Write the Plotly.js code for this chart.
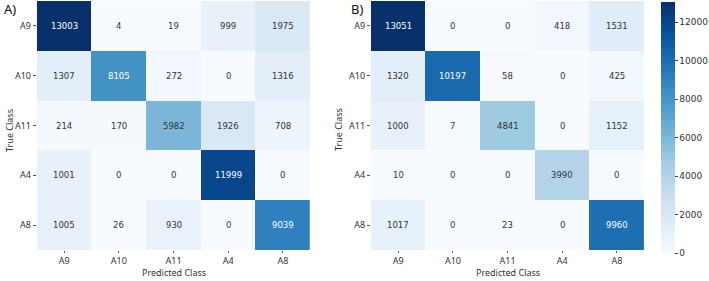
<!DOCTYPE html>
<html>
<head>
<meta charset="utf-8">
<script src="https://cdn.plot.ly/plotly-3.0.1.min.js"></script>
<style>
  html, body { margin: 0; padding: 0; background: #fff; }
  #chart { width: 709px; height: 281px; }
</style>
</head>
<body>
<div id="chart"></div>
<script>
// Class labels (rows = true class, columns = predicted class)
const classes = ["A9", "A10", "A11", "A4", "A8"];

// Confusion matrix, model A
const matrixA = [
  [13003, 4, 19, 999, 1975],
  [1307, 8105, 272, 0, 1316],
  [214, 170, 5982, 1926, 708],
  [1001, 0, 0, 11999, 0],
  [1005, 26, 930, 0, 9039]
];

// Confusion matrix, model B
const matrixB = [
  [13051, 0, 0, 418, 1531],
  [1320, 10197, 58, 0, 425],
  [1000, 7, 4841, 0, 1152],
  [10, 0, 0, 3990, 0],
  [1017, 0, 23, 0, 9960]
];

const panelLabels = ["A)", "B)"];
const xTitle = "Predicted Class";
const yTitle = "True Class";
const cbarTicks = [0, 2000, 4000, 6000, 8000, 10000, 12000];

// matplotlib "Blues"
const blues = [
  [0.0, "#f7fbff"], [0.125, "#deebf7"], [0.25, "#c6dbef"],
  [0.375, "#9ecae1"], [0.5, "#6baed6"], [0.625, "#4292c6"],
  [0.75, "#2171b5"], [0.875, "#08519c"], [1.0, "#08306b"]
];

const allVals = matrixA.flat().concat(matrixB.flat());
const zmax = Math.max(...allVals);

const W = 709, H = 281;
const left1 = 37, right1 = 312, left2 = 373, right2 = 648;
const plotTop = 1, plotBottom = 250;
const yDom = [(H - plotBottom) / H, (H - plotTop) / H];

const traces = [
  {
    type: "heatmap", z: matrixA, x: classes, y: classes,
    xaxis: "x", yaxis: "y",
    colorscale: blues, zmin: 0, zmax: zmax, showscale: false,
    hoverinfo: "skip"
  },
  {
    type: "heatmap", z: matrixB, x: classes, y: classes,
    xaxis: "x2", yaxis: "y2",
    colorscale: blues, zmin: 0, zmax: zmax, showscale: true,
    hoverinfo: "skip",
    colorbar: {
      x: 665 / W, xanchor: "left",
      y: (H - (2 + 253) / 2) / H, yanchor: "middle",
      len: 251, lenmode: "pixels",
      thickness: 14, thicknessmode: "pixels",
      outlinewidth: 0,
      tickmode: "array",
      tickvals: cbarTicks,
      ticktext: cbarTicks.map(String),
      ticks: "outside", ticklen: 3, tickcolor: "#444", tickwidth: 1,
      tickfont: { family: "DejaVu Sans, sans-serif", size: 9, color: "#333" },
      xpad: 0, ypad: 0
    }
  }
];

// Cell value labels
const annotations = [];
function addCellLabels(m, xa, ya) {
  m.forEach((row, i) => {
    row.forEach((v, j) => {
      annotations.push({
        x: classes[j], y: classes[i], xref: xa, yref: ya,
        text: String(v), showarrow: false,
        font: {
          family: "DejaVu Sans, sans-serif", size: 8.5,
          color: v / zmax > 0.55 ? "#ffffff" : "#333333"
        }
      });
    });
  });
}
addCellLabels(matrixA, "x", "y");
addCellLabels(matrixB, "x2", "y2");

// Panel tags
const tagFont = { family: "Noto Sans, sans-serif", size: 13, color: "#111" };
[[2, panelLabels[0]], [351, panelLabels[1]]].forEach(([px, t]) => {
  annotations.push({
    text: t, xref: "paper", yref: "paper",
    x: px / W, y: (H - 9) / H, xanchor: "left", yanchor: "middle",
    showarrow: false, font: tagFont
  });
});

// Axis titles
const titleFont = { family: "Noto Sans, sans-serif", size: 9, color: "#333" };
[[left1, right1, 9], [left2, right2, 340]].forEach(([l, r, yt]) => {
  annotations.push({
    text: xTitle, xref: "paper", yref: "paper",
    x: ((l + r) / 2) / W, y: 0, xanchor: "center", yanchor: "bottom",
    showarrow: false, font: titleFont
  });
  annotations.push({
    text: yTitle, xref: "paper", yref: "paper", textangle: -90,
    x: yt / W, y: (H - 130) / H,
    xanchor: "center", yanchor: "middle",
    showarrow: false, font: titleFont
  });
});

const tickFont = { family: "Noto Sans, sans-serif", size: 9, color: "#333" };
const xAxisBase = {
  type: "category", categoryarray: classes, showgrid: false, zeroline: false,
  showline: false, ticks: "outside", ticklen: 2, tickcolor: "#555", tickwidth: 1,
  tickfont: tickFont, fixedrange: true
};
const yAxisBase = {
  type: "category", categoryarray: classes, autorange: "reversed",
  showgrid: false, zeroline: false, showline: false,
  ticks: "outside", ticklen: 3, tickcolor: "#555", tickwidth: 1,
  tickfont: tickFont, fixedrange: true, domain: yDom
};

const layout = {
  width: W, height: H,
  margin: { l: 0, r: 0, t: 0, b: 0 },
  paper_bgcolor: "#fff", plot_bgcolor: "#fff",
  xaxis: Object.assign({}, xAxisBase, { domain: [left1 / W, right1 / W], anchor: "y" }),
  yaxis: Object.assign({}, yAxisBase, { anchor: "x" }),
  xaxis2: Object.assign({}, xAxisBase, { domain: [left2 / W, right2 / W], anchor: "y2" }),
  yaxis2: Object.assign({}, yAxisBase, { anchor: "x2" }),
  annotations: annotations,
  showlegend: false
};

Plotly.newPlot("chart", traces, layout, { displayModeBar: false, staticPlot: true });
</script>
</body>
</html>
